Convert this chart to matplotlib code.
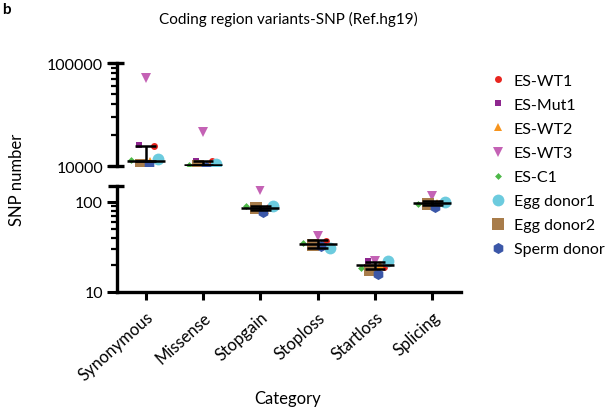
import numpy as np
import matplotlib.pyplot as plt
from matplotlib.ticker import LogLocator, NullFormatter, FixedLocator

plt.rcParams['font.family'] = ['Lato', 'DejaVu Sans']

# DADOS
categorias = ['Synonymous', 'Missense', 'Stopgain', 'Stoploss', 'Startloss', 'Splicing']
amostras = ['ES-WT1', 'ES-Mut1', 'ES-WT2', 'ES-WT3', 'ES-C1',
            'Egg donor1', 'Egg donor2', 'Sperm donor']

es_wt1      = [15600, 11200, 88, 37, 19.0, 97]
es_mut1     = [16000, 11300, 81, 31, 22.0, 100]
es_wt2      = [11200, 10500, 81, 34, 20.0, 96]
es_wt3      = [71000, 21400, 136, 42, 22.0, 117]
es_c1       = [11400, 10300, 89, 35, 18.5, 94]
egg_donor1  = [11700, 10500, 89, 31, 22.0, 100]
egg_donor2  = [10200, 9900, 86, 33, 17.6, 95]
sperm_donor = [10200, 9700, 77, 32, 15.8, 88]

# linha central e barras de erro
centro   = [11200, 10200, 86, 34, 20.0, 97]
erro_inf = [11200, 10200, 82, 31, 18.0, 93]
erro_sup = [15600, 11200, 90, 38, 21.5, 101]

series = [es_wt1, es_mut1, es_wt2, es_wt3, es_c1, egg_donor1, egg_donor2, sperm_donor]

cores    = ['#e8251f', '#8e278f', '#f7941d', '#c462b5', '#4db848',
            '#6ccbde', '#a87c4a', '#3b57a8']
marcas   = ['o', 's', '^', 'v', 'D', 'o', 's', 'h']
tamanhos = [5, 5, 5.5, 6.5, 3.5, 8.5, 8.5, 8]
desloc   = [0.15, -0.12, 0.08, 0.0, -0.25, 0.22, -0.08, 0.05]

fig = plt.figure(figsize=(6.16, 4.14), dpi=100)
ax_top = fig.add_axes([0.19, 0.5966, 0.5584, 0.2488])
ax_bot = fig.add_axes([0.19, 0.2923, 0.5584, 0.256])

x = np.arange(len(categorias))

for ax in (ax_top, ax_bot):
    for s, c, m, ms, d, nome in zip(series, cores, marcas, tamanhos, desloc, amostras):
        ax.plot(x + d, s, linestyle='none', marker=m, color=c, markersize=ms,
                markeredgewidth=0, label=nome, zorder=2)
    cen = np.array(centro)
    ax.hlines(cen, x - 0.33, x + 0.33, color='black', linewidth=1.8, zorder=3)
    ax.vlines(x, erro_inf, erro_sup, color='black', linewidth=1.8, zorder=3)
    ax.hlines(erro_sup, x - 0.18, x + 0.18, color='black', linewidth=1.8, zorder=3)
    ax.hlines(erro_inf, x - 0.18, x + 0.18, color='black', linewidth=1.8, zorder=3)
    ax.set_yscale('log')
    ax.set_xlim(-0.5, 5.5)
    ax.spines['top'].set_visible(False)
    ax.spines['right'].set_visible(False)
    ax.spines['left'].set_linewidth(2.4)
    ax.spines['bottom'].set_linewidth(2.4)
    ax.tick_params(axis='y', which='major', width=2.2, length=7, labelsize=11.5, pad=3)
    ax.tick_params(axis='y', which='minor', width=1.6, length=4)
    ax.yaxis.set_minor_locator(LogLocator(base=10, subs=np.arange(2, 10)))
    ax.yaxis.set_minor_formatter(NullFormatter())
    # marca de quebra no topo do eixo
    ax.plot([-0.025, 0.02], [1, 1], transform=ax.transAxes, color='black',
            linewidth=2.4, clip_on=False, solid_capstyle='butt')

ax_top.set_ylim(10000, 100000)
ax_top.yaxis.set_major_locator(FixedLocator([10000, 100000]))
ax_top.set_yticklabels(['10000', '100000'])
ax_top.spines['bottom'].set_visible(False)
ax_top.set_xticks([])
ax_top.plot([-0.025, 0.02], [0, 0], transform=ax_top.transAxes, color='black',
            linewidth=2.4, clip_on=False, solid_capstyle='butt')

ax_bot.set_ylim(10, 150)
ax_bot.yaxis.set_major_locator(FixedLocator([10, 100]))
ax_bot.set_yticklabels(['10', '100'])
ax_bot.set_xticks(x)
ax_bot.set_xticklabels(categorias, rotation=42, ha='right', rotation_mode='anchor',
                       fontsize=12)
ax_bot.tick_params(axis='x', width=2.2, length=6, pad=6)

fig.text(288 / 616, 1 - 19 / 414, 'Coding region variants-SNP (Ref.hg19)',
         ha='center', va='center', fontsize=11)
fig.text(17 / 616, 1 - 180 / 414, 'SNP number', rotation=90,
         ha='center', va='center', fontsize=12)
fig.text(288 / 616, 1 - 399 / 414, 'Category', ha='center', va='center', fontsize=12)
fig.text(0.003, 0.975, 'b', fontsize=11, fontweight='bold', ha='left', va='center')

handles, labels = ax_bot.get_legend_handles_labels()
fig.legend(handles, labels, loc='upper left', bbox_to_anchor=(0.785, 0.835),
           frameon=False, fontsize=11.5, handletextpad=0.5, labelspacing=0.62,
           handlelength=1.0, borderaxespad=0)

plt.savefig('out.png', dpi=100)
